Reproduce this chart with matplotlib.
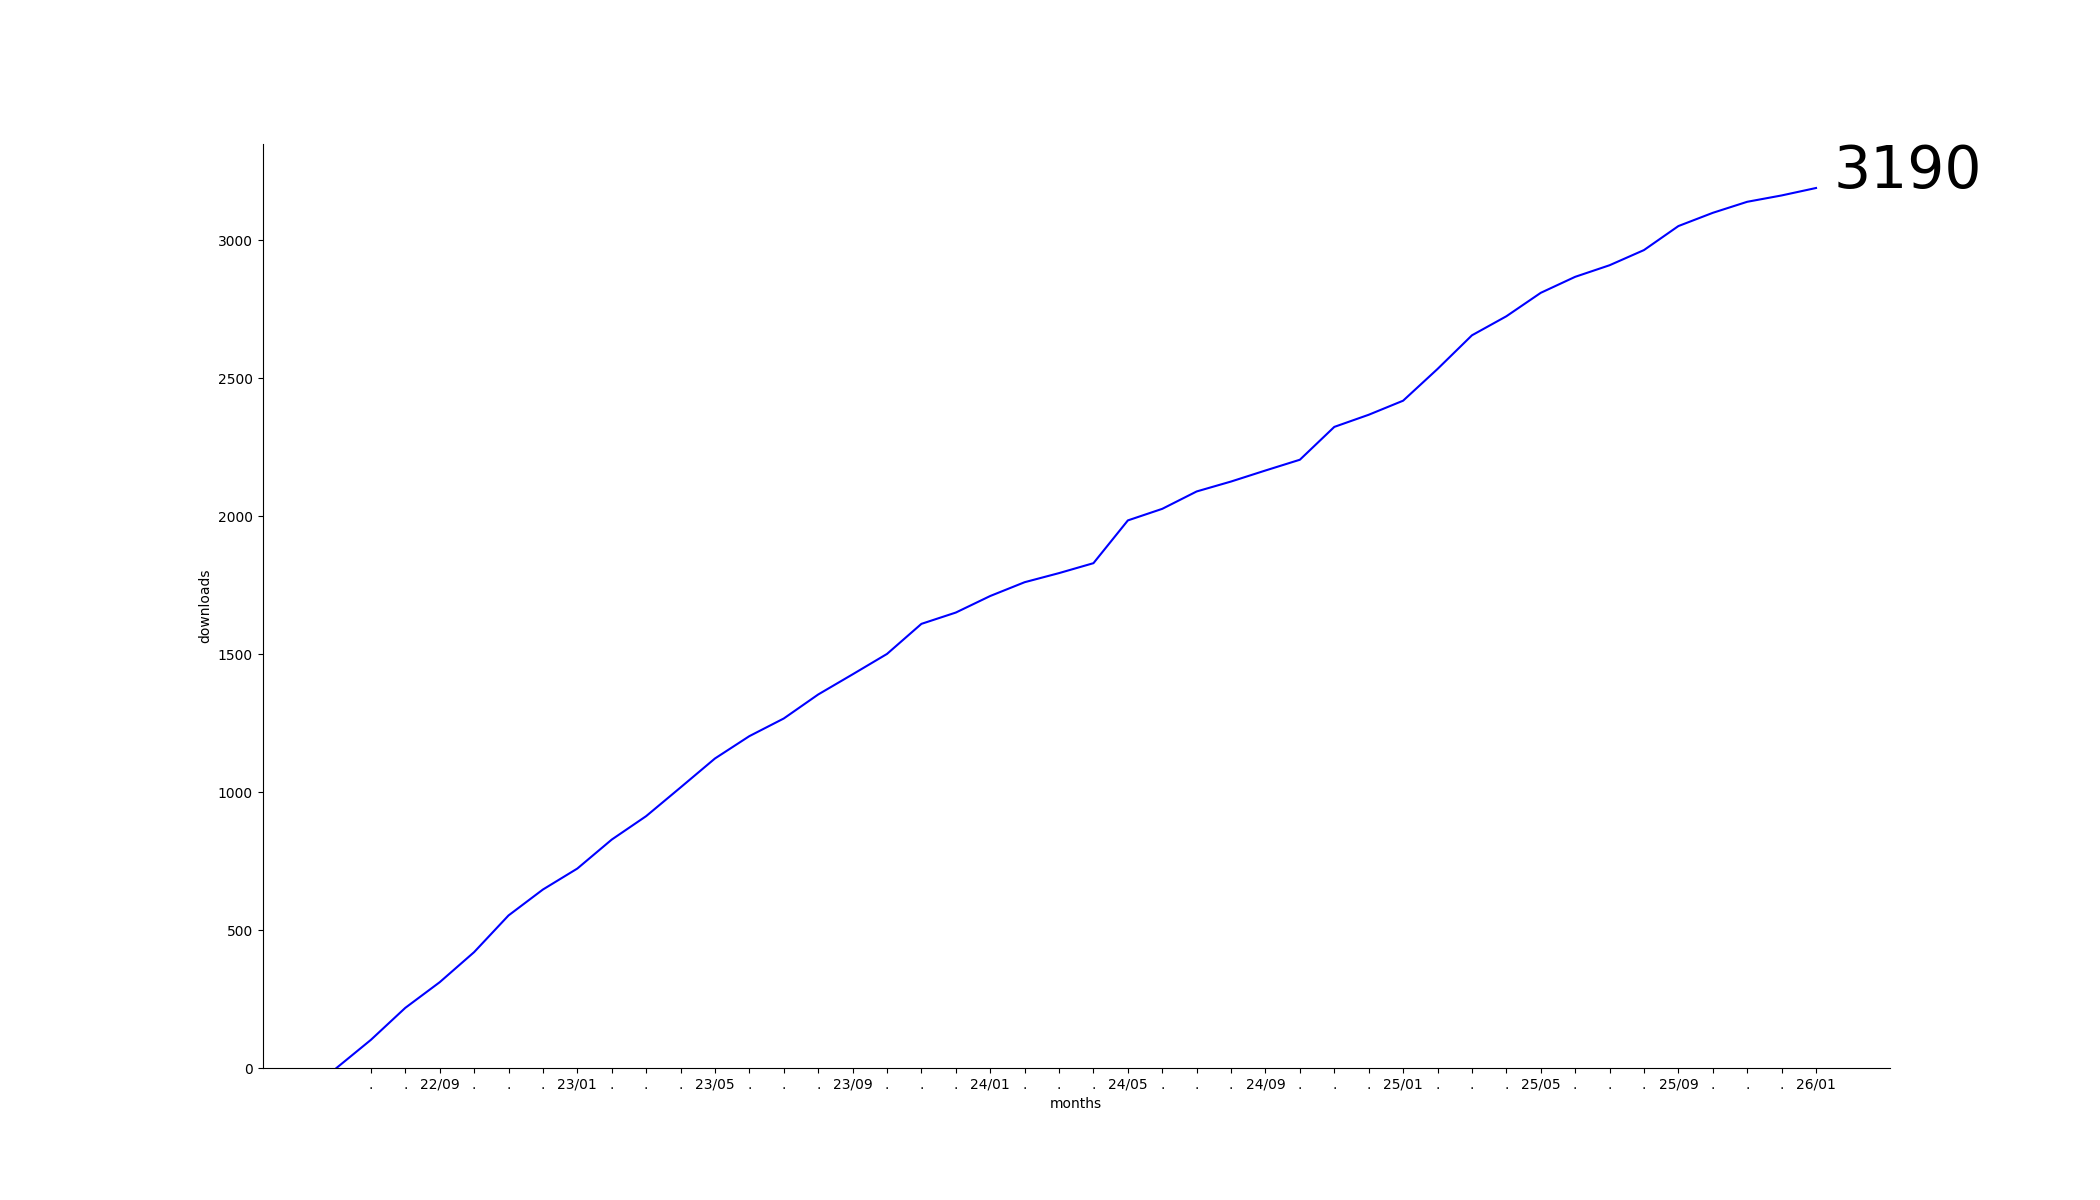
import numpy as np
import matplotlib.pyplot as plt

# 每月累计下载量, 22/06 .. 26/01
months = []
for y in range(22, 27):
    for m in range(1, 13):
        if (y == 22 and m < 6) or (y == 26 and m > 1):
            continue
        months.append("%02d/%02d" % (y, m))

downloads = [0, 102, 218, 311, 420, 553, 647, 723, 828, 913,
             1017, 1122, 1203, 1267, 1354, 1427, 1501, 1610, 1651, 1711,
             1761, 1794, 1830, 1985, 2027, 2090, 2126, 2166, 2205, 2324,
             2368, 2419, 2534, 2656, 2725, 2810, 2868, 2910, 2965, 3052,
             3100, 3140, 3163, 3190]

# 只在 1, 5, 9 月显示标签, 其余用 '.'
tick_labels = [m if m[-2:] in ("01", "05", "09") else "." for m in months]

if __name__ == "__main__":
    fig = plt.figure(figsize=(21, 12), dpi=100)
    ax = fig.add_subplot(111)
    x = np.arange(len(downloads))
    ax.plot(x, downloads, color='blue')
    ax.set_ylim(bottom=0)

    ax.set_xticks(x[1:])
    ax.set_xticklabels(tick_labels[1:])
    ax.set_xlabel('months')
    ax.set_ylabel('downloads')
    ax.spines['top'].set_visible(False)
    ax.spines['right'].set_visible(False)

    ax.text(x[-1] + 0.5, downloads[-1], str(downloads[-1]), fontsize=42)

    fig.savefig('out.png')
